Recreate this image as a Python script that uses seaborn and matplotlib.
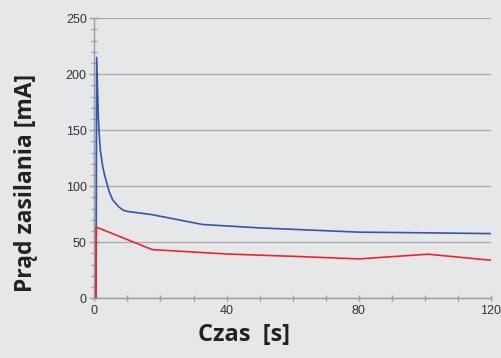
import matplotlib
matplotlib.use("Agg")
import matplotlib.pyplot as plt
from matplotlib.ticker import MultipleLocator
import seaborn as sns
import pandas as pd

# values
blue_t = [0.5, 0.7, 1.2, 1.4, 1.8, 2.5, 3.2, 4.5, 5.5, 7.3, 8.7, 10, 17.3, 32.8, 50, 80, 100, 120]
blue_ma = [0, 215, 162, 150, 132, 118, 108.6, 95, 88, 81.8, 78.6, 77.5, 74.7, 65.8, 62.8, 59, 58.4, 57.7]
red_t = [0.5, 0.6, 17.5, 40, 62, 80, 101, 120]
red_ma = [0, 63.5, 43.4, 39.5, 37.2, 35.1, 39.3, 33.9]

x_ticks = [0, 40, 80, 120]
y_ticks = [0, 50, 100, 150, 200, 250]

bg = "#e6e7e9"
sns.set_style("white")
plt.rcParams["font.family"] = ["Liberation Sans", "DejaVu Sans"]

fig = plt.figure(figsize=(5.02, 3.58), dpi=100, facecolor=bg)
ax = fig.add_axes([0.188, 0.167, 0.79, 0.782])
ax.set_facecolor(bg)

blue = pd.DataFrame({"t": blue_t, "ma": blue_ma})
red = pd.DataFrame({"t": red_t, "ma": red_ma})
sns.lineplot(data=blue, x="t", y="ma", color="#3456ab", linewidth=1.2, ax=ax, zorder=3)
sns.lineplot(data=red, x="t", y="ma", color="#f0242a", linewidth=1.2, ax=ax, zorder=3)

ax.set_xlim(0, 120)
ax.set_ylim(0, 250)
ax.set_xticks(x_ticks)
ax.set_yticks(y_ticks)
ax.xaxis.set_minor_locator(MultipleLocator(10))
ax.yaxis.set_minor_locator(MultipleLocator(10))
ax.grid(axis="y", which="major", color="#a5a8ad", linewidth=0.9)
ax.set_axisbelow(True)

for s in ["top", "right"]:
    ax.spines[s].set_visible(False)
for s in ["left", "bottom"]:
    ax.spines[s].set_color("#9a9da2")
    ax.spines[s].set_linewidth(1.0)

ax.tick_params(axis="both", which="both", bottom=True, left=True, direction="inout",
               color="#9a9da2", width=1.0, labelcolor="#333333", labelsize=9)
ax.tick_params(axis="y", which="major", length=7, pad=2)
ax.tick_params(axis="y", which="minor", length=5)
ax.tick_params(axis="x", which="both", length=4, pad=3)

ax.set_xlabel("Czas  [s]", fontfamily="Open Sans", fontweight="bold", fontsize=17, color="#222222")
ax.set_ylabel("Prąd zasilania [mA]", fontfamily="Open Sans", fontweight="bold", fontsize=16.5, color="#222222")
ax.xaxis.set_label_coords(0.378, -0.09)
ax.yaxis.set_label_coords(-0.142, 0.41)

fig.savefig("out.png", dpi=100, facecolor=bg)
